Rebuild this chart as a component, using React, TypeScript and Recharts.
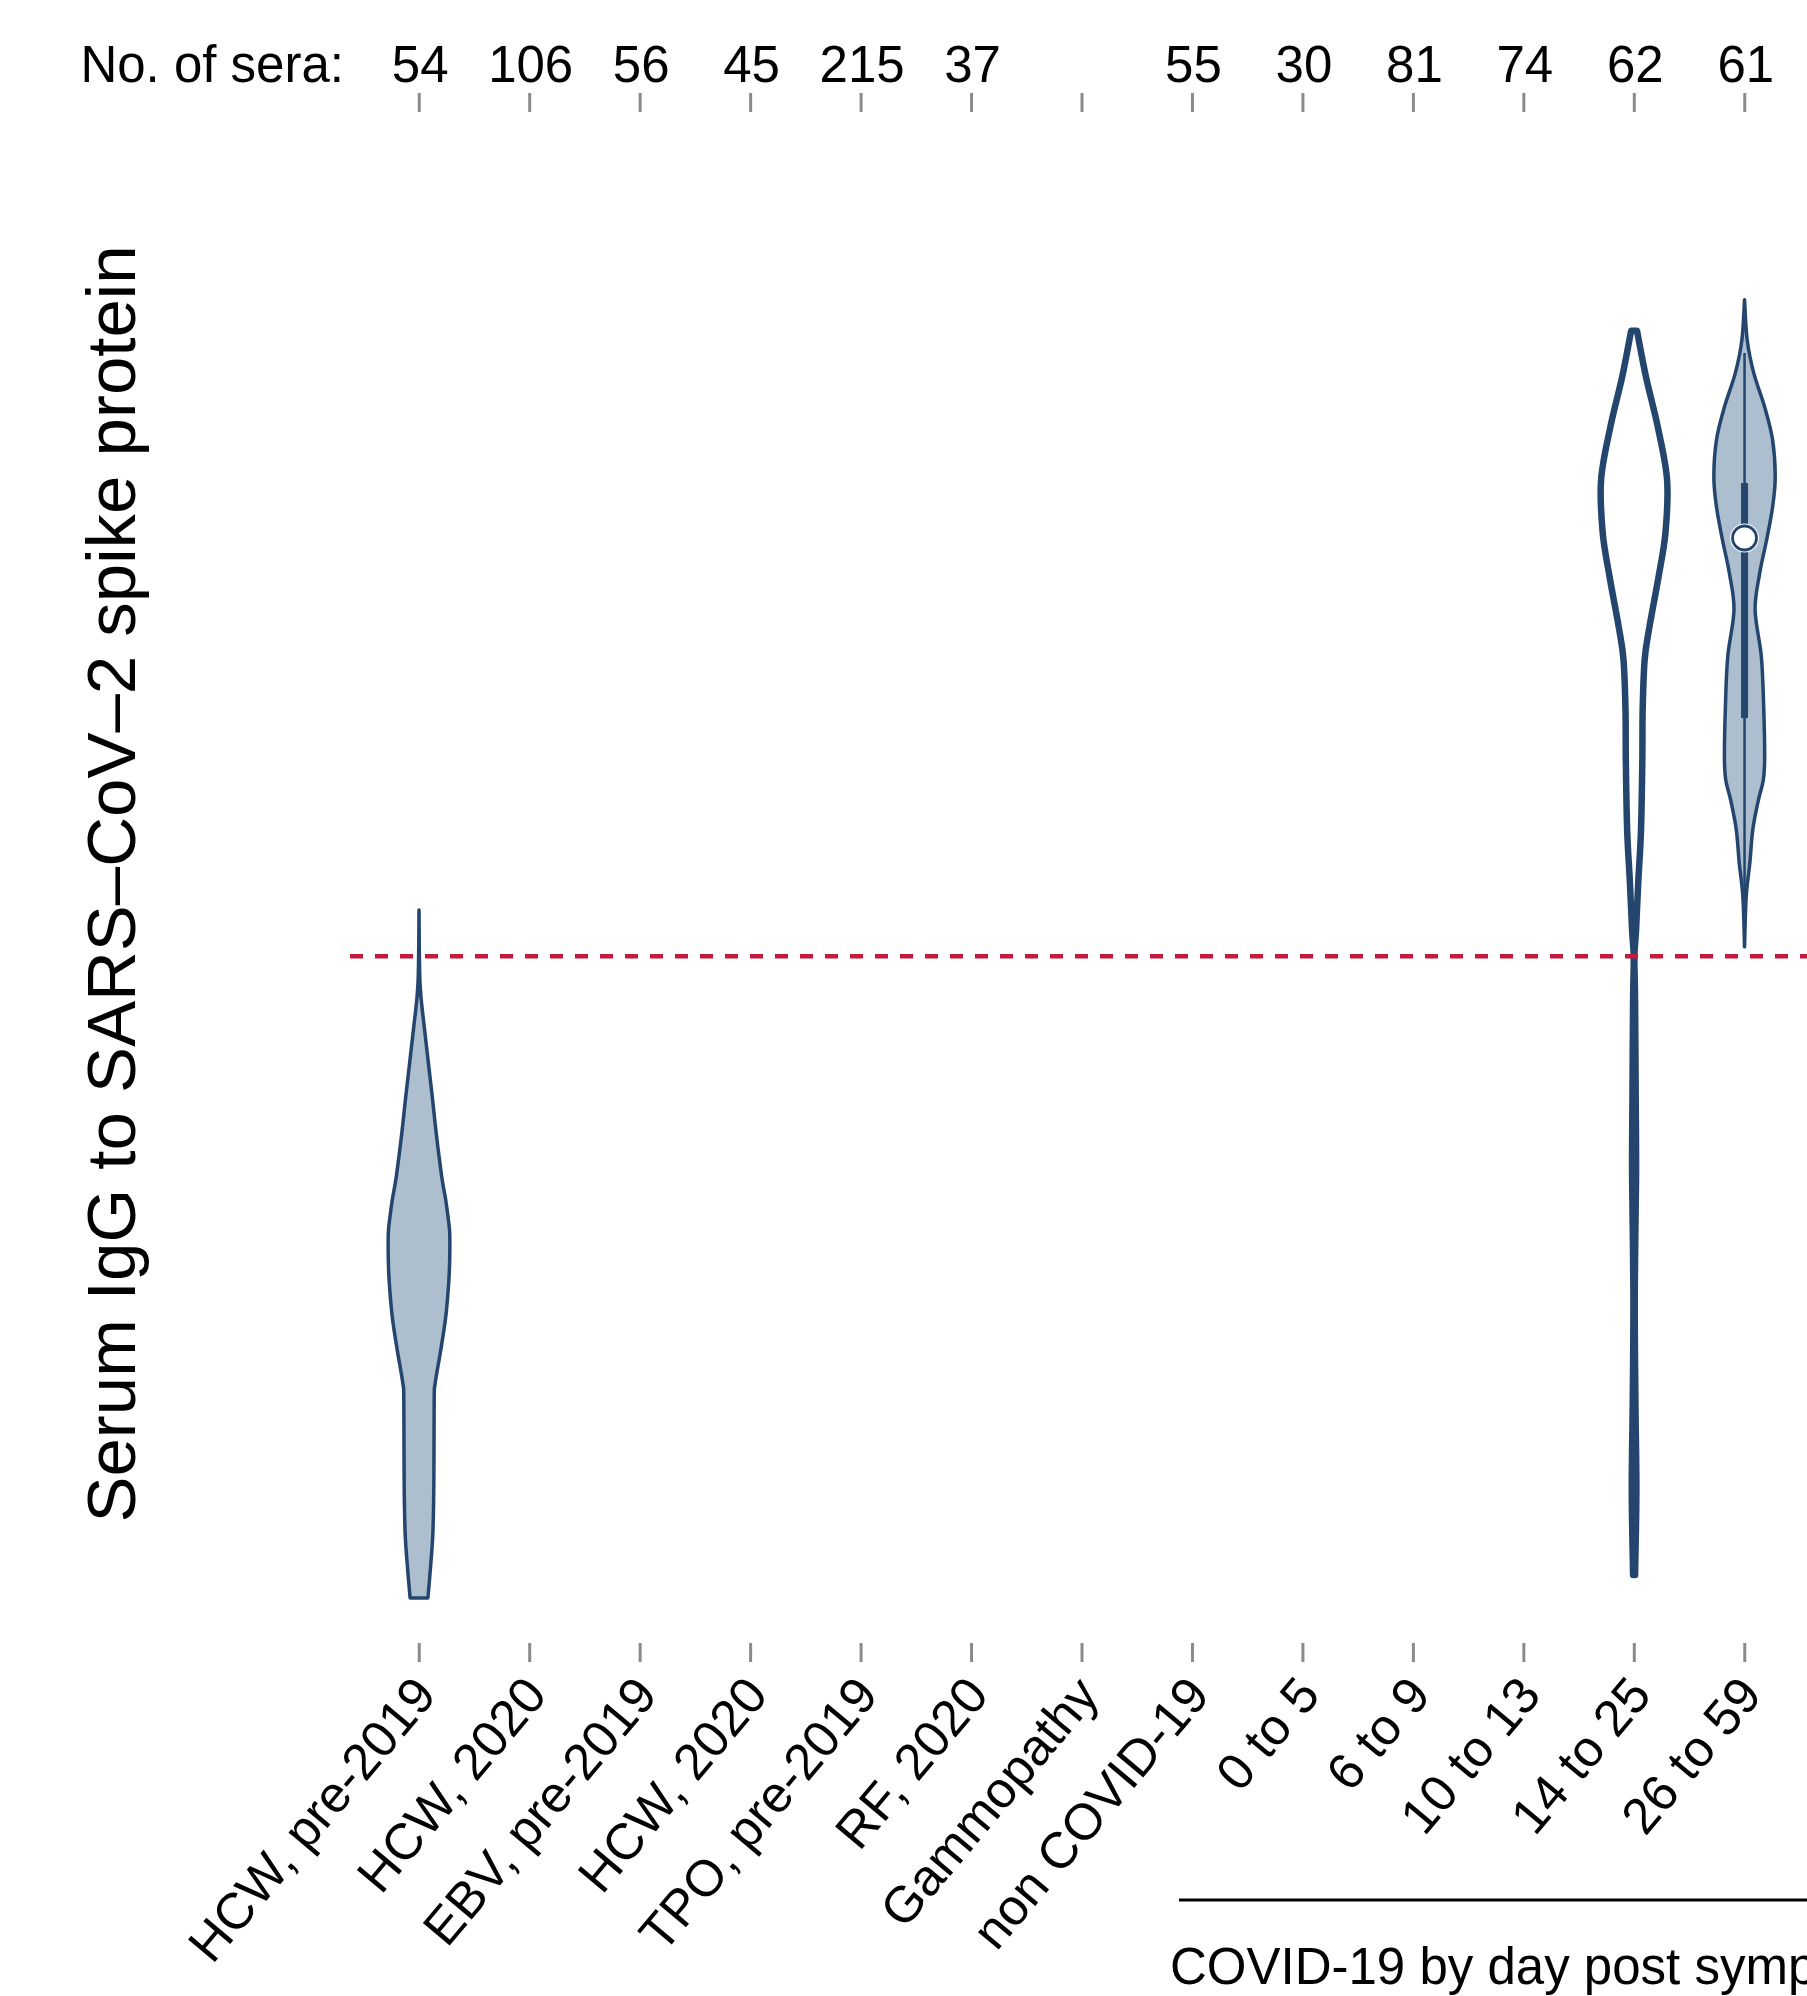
import { ComposedChart, Bar, XAxis, YAxis, ReferenceLine } from "recharts";

const groups = [
  "HCW, pre-2019",
  "HCW, 2020",
  "EBV, pre-2019",
  "HCW, 2020",
  "TPO, pre-2019",
  "RF, 2020",
  "Gammopathy",
  "non COVID-19",
  "0 to 5",
  "6 to 9",
  "10 to 13",
  "14 to 25",
  "26 to 59",
];
const seraCounts = [54, 106, 56, 45, 215, 37, null, 55, 30, 81, 74, 62, 61];

const cutoff = 1.525;

// violin outlines, bottom -> top: IgG value and relative density (half width)
const hcwPreValues = [0.1, 0.169, 0.244, 0.355, 0.54, 0.577, 0.651, 0.724, 0.8, 0.851, 0.911, 0.946, 0.984, 1.035, 1.133, 1.221, 1.368, 1.466, 1.628];
const hcwPreDensity = [0.27, 0.35, 0.42, 0.45, 0.46, 0.49, 0.66, 0.81, 0.9, 0.93, 0.93, 0.88, 0.81, 0.69, 0.52, 0.39, 0.16, 0.03, 0];

const day14Values = [0.151, 0.34, 0.54, 0.775, 1.033, 1.206, 1.428, 1.523, 1.583, 1.694, 1.806, 1.961, 2.072, 2.183, 2.25, 2.367, 2.465, 2.583, 2.7, 2.812, 2.914];
const day14Density = [0.03, 0.07, 0.04, 0.02, 0.06, 0.05, 0.03, 0.01, 0.06, 0.13, 0.21, 0.25, 0.26, 0.32, 0.45, 0.74, 0.95, 1.0, 0.72, 0.36, 0.09];

const day26Values = [1.546, 1.657, 1.732, 1.806, 1.872, 1.917, 1.968, 2.079, 2.19, 2.294, 2.376, 2.45, 2.523, 2.589, 2.672, 2.745, 2.82, 2.894, 2.983];
const day26Density = [0, 0.05, 0.16, 0.25, 0.42, 0.57, 0.61, 0.58, 0.51, 0.32, 0.46, 0.67, 0.85, 0.93, 0.85, 0.61, 0.28, 0.08, 0];
// whisker low, q1, median, q3, whisker high
const day26Box = [1.599, 2.054, 2.454, 2.576, 2.865];

const violins: Record<number, any> = {
  0: { values: hcwPreValues, density: hcwPreDensity },
  11: { values: day14Values, density: day14Density },
  12: { values: day26Values, density: day26Density, box: day26Box },
};

const violinStyle: Record<number, any> = {
  0: { fill: "#adbfcf", stroke: "#23456e", width: 3.5 },
  11: { fill: "#ffffff", stroke: "#23456e", width: 6.5 },
  12: { fill: "#adbfcf", stroke: "#23456e", width: 3.5 },
};

const data = groups.map((g, i) => {
  const v = violins[i];
  return {
    id: i,
    group: g,
    sera: seraCounts[i],
    range: v ? [v.values[0], v.values[v.values.length - 1]] : undefined,
    violin: v,
  };
});

const FONT = "'Liberation Sans', Arial, Helvetica, sans-serif";
const NAVY = "#23456e";

function smooth(pts: number[][]) {
  let d = "";
  for (let i = 0; i < pts.length - 1; i++) {
    const p0 = pts[i - 1] || pts[i];
    const p1 = pts[i];
    const p2 = pts[i + 1];
    const p3 = pts[i + 2] || p2;
    const c1 = [p1[0] + (p2[0] - p0[0]) / 6, p1[1] + (p2[1] - p0[1]) / 6];
    const c2 = [p2[0] - (p3[0] - p1[0]) / 6, p2[1] - (p3[1] - p1[1]) / 6];
    d += ` C${c1[0]},${c1[1]} ${c2[0]},${c2[1]} ${p2[0]},${p2[1]}`;
  }
  return d;
}

function ViolinShape(props: any) {
  const { x, y, width, height, payload } = props;
  const v = payload && payload.violin;
  if (!v || !isFinite(y) || !isFinite(height)) return <g />;
  const st = violinStyle[payload.id];
  const top = Math.min(y, y + height);
  const bot = Math.max(y, y + height);
  const lo = v.values[0];
  const hi = v.values[v.values.length - 1];
  const py = (val: number) => bot - ((val - lo) / (hi - lo)) * (bot - top);
  const cx = x + width / 2;
  const half = width * 0.3;
  const right = v.values.map((val: number, i: number) => [cx + v.density[i] * half, py(val)]);
  const left = v.values.map((val: number, i: number) => [cx - v.density[i] * half, py(val)]).reverse();
  const d =
    `M${right[0][0]},${right[0][1]}` +
    smooth(right) +
    ` L${left[0][0]},${left[0][1]}` +
    smooth(left) +
    " Z";
  return (
    <g>
      <path d={d} fill={st.fill} stroke={st.stroke} strokeWidth={st.width} strokeLinejoin="round" />
      {v.box && (
        <g>
          <line x1={cx} x2={cx} y1={py(v.box[0])} y2={py(v.box[4])} stroke={NAVY} strokeWidth={2.5} />
          <rect x={cx - 3.5} width={7} y={py(v.box[3])} height={py(v.box[1]) - py(v.box[3])} fill={NAVY} />
          <circle cx={cx} cy={py(v.box[2])} r={14.5} fill="#ffffff" />
          <circle cx={cx} cy={py(v.box[2])} r={12} fill="#ffffff" stroke={NAVY} strokeWidth={2.8} />
        </g>
      )}
    </g>
  );
}

function SeraTick(props: any) {
  const { x, y, payload } = props;
  const n = seraCounts[payload.value];
  if (n == null) return <g />;
  return (
    <text x={x + 1} y={y - 11} textAnchor="middle" fontSize={51} fontFamily={FONT} fill="#000">
      {n}
    </text>
  );
}

function GroupTick(props: any) {
  const { x, y, payload } = props;
  const ax = x + 19;
  const ay = y + 34;
  return (
    <text x={ax} y={ay} transform={`rotate(-50, ${ax}, ${ay})`} textAnchor="end" fontSize={51} fontFamily={FONT} fill="#000">
      {groups[payload.value]}
    </text>
  );
}

function SeraLabel(props: any) {
  const vb = props.viewBox || { x: 350 };
  return (
    <text x={vb.x - 6} y={82} textAnchor="end" fontSize={51} fontFamily={FONT} fill="#000">
      No. of sera:
    </text>
  );
}

function CovidLabel(props: any) {
  const vb = props.viewBox || { x: 350, width: 1550 };
  return (
    <g>
      <line x1={1179} x2={vb.x + vb.width} y1={1900} y2={1900} stroke="#000" strokeWidth={3} />
      <text x={1170} y={1984} fontSize={51} fontFamily={FONT} fill="#000">
        COVID-19 by day post symptom onset
      </text>
    </g>
  );
}

function IgGLabel() {
  return (
    <text x={135} y={884} transform="rotate(-90, 135, 884)" textAnchor="middle" fontSize={69} fontFamily={FONT} fill="#000">
      Serum IgG to SARS–CoV–2 spike protein
    </text>
  );
}

export default function App() {
  return (
    <div style={{ position: "absolute", left: 0, top: 0, width: 1807, height: 1996, overflow: "hidden", background: "#fff" }}>
      <ComposedChart
        width={1900}
        height={1996}
        data={data}
        margin={{ top: 0, right: 0, bottom: 0, left: 0 }}
        barCategoryGap="0%"
      >
        <XAxis
          xAxisId="top"
          orientation="top"
          dataKey="id"
          height={112}
          padding={{ left: 14, right: 100 }}
          axisLine={false}
          tickSize={19}
          tickMargin={0}
          interval={0}
          tickLine={{ stroke: "#8a8a8a", strokeWidth: 3 }}
          tick={(p: any) => <SeraTick {...p} />}
          label={(p: any) => <SeraLabel {...p} />}
        />
        <XAxis
          xAxisId="b"
          dataKey="id"
          height={353}
          padding={{ left: 14, right: 100 }}
          axisLine={false}
          tickSize={19}
          tickMargin={0}
          interval={0}
          tickLine={{ stroke: "#8a8a8a", strokeWidth: 3 }}
          tick={(p: any) => <GroupTick {...p} />}
          label={(p: any) => <CovidLabel {...p} />}
        />
        <YAxis
          domain={[0, 3.4]}
          width={350}
          axisLine={false}
          tickLine={false}
          tick={false}
          label={() => <IgGLabel />}
        />
        <ReferenceLine
          y={cutoff}
          xAxisId="b"
          stroke="#c41a3b"
          strokeWidth={4.5}
          strokeDasharray="13 12"
        />
        <Bar
          xAxisId="b"
          dataKey="range"
          shape={(p: any) => <ViolinShape {...p} />}
          isAnimationActive={false}
        />
      </ComposedChart>
    </div>
  );
}
